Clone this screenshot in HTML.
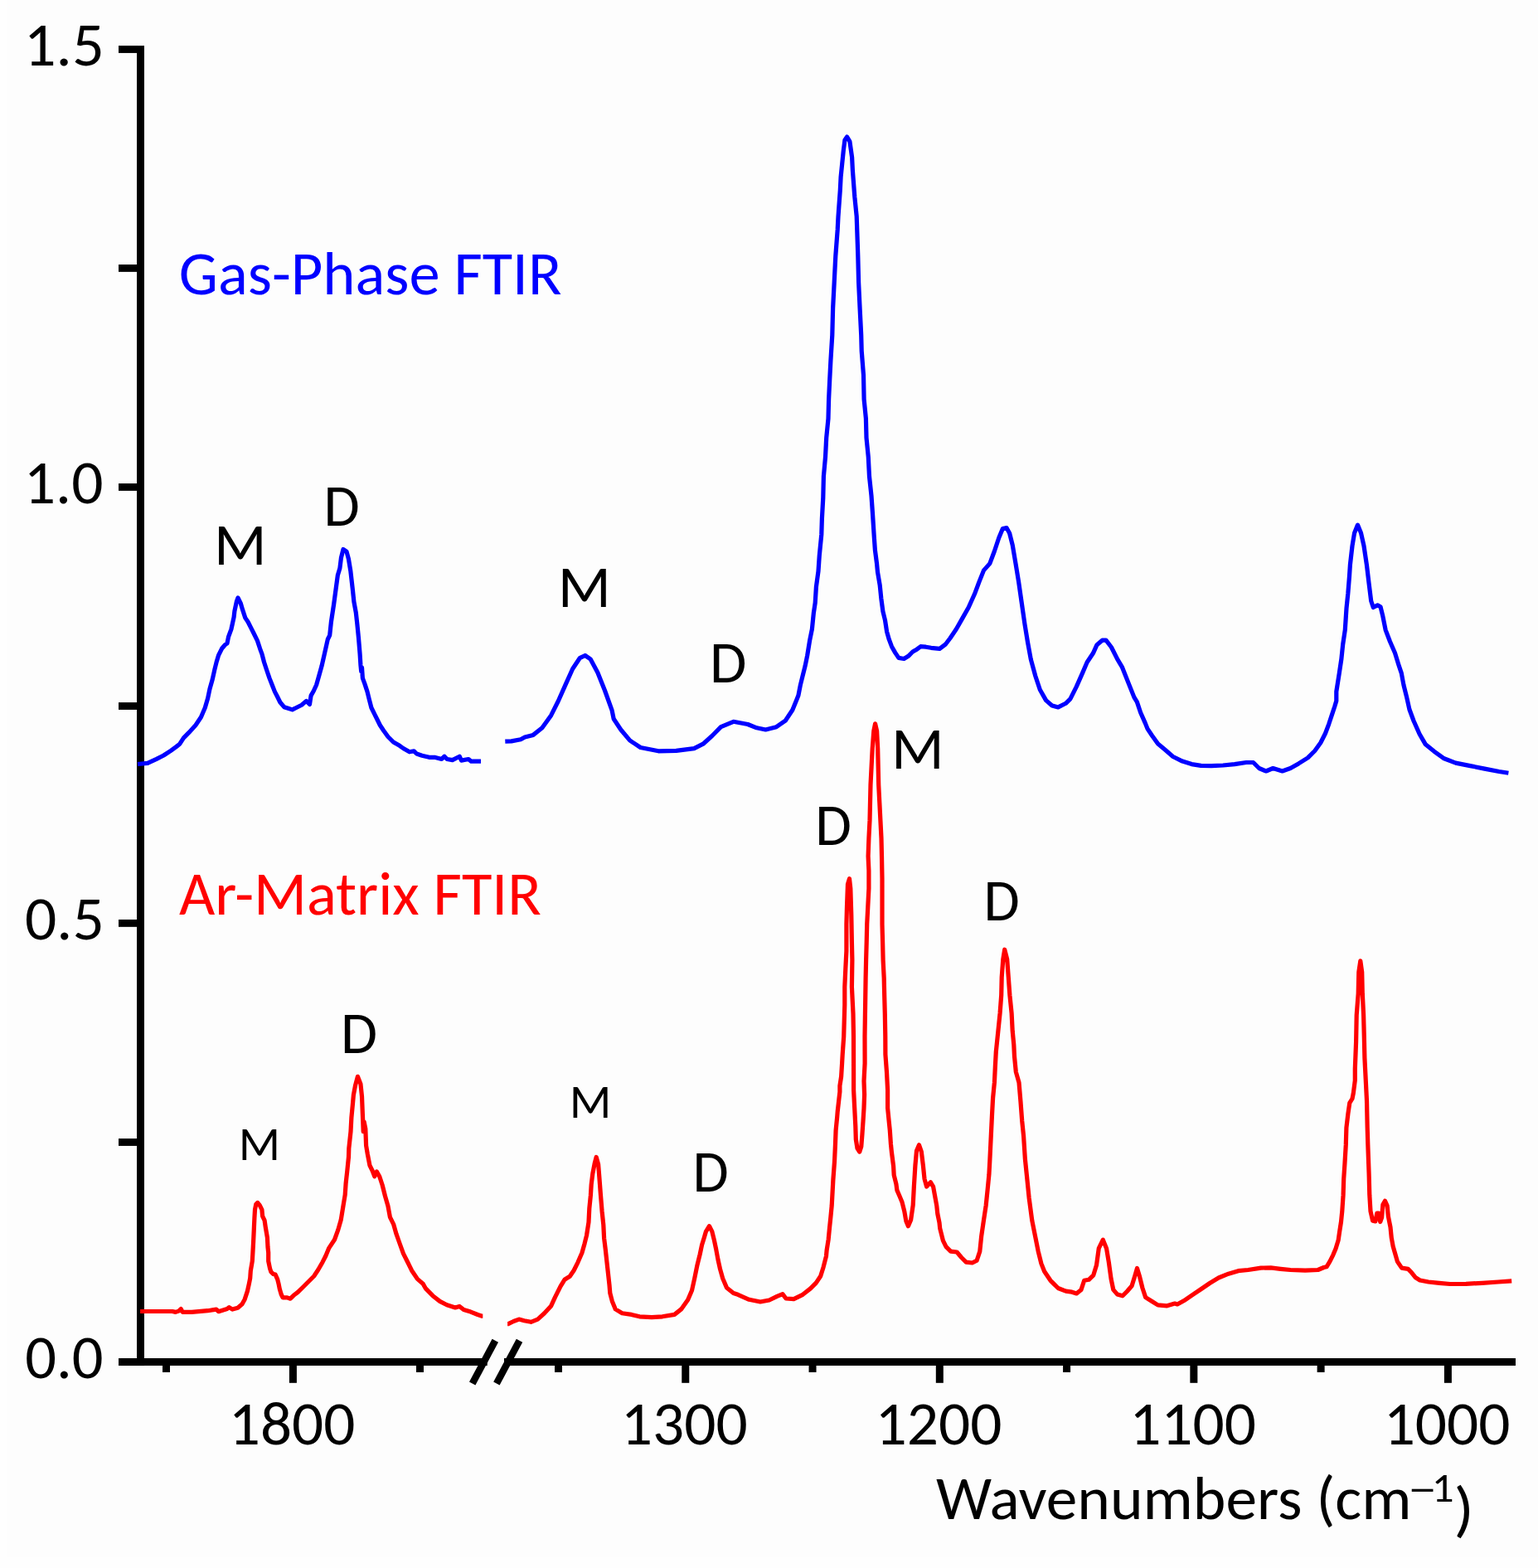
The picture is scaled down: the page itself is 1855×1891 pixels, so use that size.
<!DOCTYPE html>
<html><head><meta charset="utf-8"><title>FTIR spectra</title>
<style>html,body{margin:0;padding:0;background:#fdfdfd;overflow:hidden}svg{display:block}text{font-family:Carlito,"Liberation Sans",sans-serif}</style></head><body>
<svg width="1855" height="1891" viewBox="0 0 1855 1891">
<rect x="0" y="0" width="1855" height="1891" fill="#fdfdfd"/>
<rect x="0" y="0" width="9" height="1891" fill="#fefefe"/><rect x="0" y="1878" width="1855" height="13" fill="#fefefe"/>
<g fill="#000">
<rect x="165.0" y="55.1" width="9.00" height="1591.85"/>
<rect x="143" y="55.08" width="22.50" height="8.85"/>
<rect x="143" y="319.02" width="22.50" height="8.85"/>
<rect x="143" y="583.03" width="22.50" height="8.85"/>
<rect x="143" y="847.08" width="22.50" height="8.85"/>
<rect x="143" y="1108.98" width="22.50" height="8.85"/>
<rect x="143" y="1373.08" width="22.50" height="8.85"/>
<rect x="143" y="1638.08" width="22.50" height="8.85"/>
<rect x="143" y="1638.0" width="444.70" height="8.95"/>
<rect x="608" y="1638.0" width="1220.00" height="8.95"/>
<rect x="196.00" y="1639.00" width="9" height="15.90"/>
<rect x="348.90" y="1639.00" width="9" height="28.80"/>
<rect x="502.00" y="1639.00" width="9" height="15.90"/>
<rect x="669.00" y="1639.00" width="9" height="15.90"/>
<rect x="822.27" y="1639.00" width="9" height="28.80"/>
<rect x="975.54" y="1639.00" width="9" height="15.90"/>
<rect x="1128.81" y="1639.00" width="9" height="28.80"/>
<rect x="1282.08" y="1639.00" width="9" height="15.90"/>
<rect x="1435.35" y="1639.00" width="9" height="28.80"/>
<rect x="1588.62" y="1639.00" width="9" height="15.90"/>
<rect x="1741.89" y="1639.00" width="9" height="28.80"/>
</g>
<g stroke="#000" stroke-width="8.4" stroke-linecap="butt">
<line x1="569.7" y1="1668.5" x2="597.3" y2="1616.8"/>
<line x1="598.9" y1="1668.5" x2="626.5" y2="1616.8"/>
</g>
<g fill="none" stroke-width="5.2" stroke-linejoin="round" stroke-linecap="butt">
<polyline stroke="#0000ff" points="166.0,921.5 178.0,920.4 188.8,915.3 197.4,911.0 206.0,905.3 212.5,900.6 216.8,897.2 221.5,889.9 227.9,883.4 236.0,874.5 242.5,864.8 247.3,853.5 250.6,842.2 253.0,830.8 256.2,819.5 258.7,808.2 261.1,798.5 263.5,790.4 267.5,782.3 271.6,777.5 274.0,775.8 275.6,767.8 278.9,758.9 280.5,751.6 282.1,744.3 282.9,737.0 285.3,725.7 287.0,720.9 290.2,727.3 292.6,735.4 295.8,745.1 299.1,750.0 302.3,756.4 306.4,764.5 310.4,772.6 313.6,782.3 316.0,788.8 318.5,798.5 321.7,808.2 325.0,817.9 328.2,826.0 331.4,834.1 334.7,840.5 337.9,847.0 342.7,852.7 347.6,854.3 352.5,855.9 357.3,853.5 363.8,850.2 369.4,845.4 373.5,849.4 375.1,838.9 378.3,833.3 381.6,826.0 384.8,814.7 388.0,803.3 391.3,788.8 395.3,771.0 397.7,766.1 399.4,750.0 402.6,729.0 405.0,711.2 407.4,693.4 409.9,685.3 411.5,672.3 414.0,662.5 418.0,665.1 420.4,674.0 422.8,688.5 425.2,709.5 426.9,725.7 429.3,738.7 430.9,753.2 432.5,769.4 434.1,788.8 434.9,801.7 435.7,809.8 436.5,805.0 437.4,817.9 439.8,824.4 443.0,834.1 445.4,843.8 447.9,853.5 451.9,861.6 455.1,868.0 458.3,874.5 462.6,881.0 468.0,888.5 474.5,895.0 482.0,899.3 486.4,902.5 493.9,906.8 499.3,905.8 502.5,909.0 509.0,911.2 517.6,913.3 524.1,913.3 532.7,915.5 536.0,912.2 539.2,915.5 545.7,916.6 554.3,912.2 556.4,917.1 565.1,915.5 568.3,918.2 580.0,918.2"/>
<polyline stroke="#0000ff" points="609.3,894.2 616.8,893.9 628.0,891.8 633.0,889.0 643.1,886.4 653.9,877.8 664.7,862.7 673.3,845.5 681.9,826.1 690.6,806.7 699.2,793.7 705.7,790.5 712.1,794.8 720.8,811.0 729.4,832.5 738.0,856.3 740.2,867.0 748.8,880.0 759.6,892.9 772.5,901.5 794.1,905.8 815.6,905.4 837.2,902.6 848.0,897.2 858.8,887.5 869.5,876.7 884.6,870.3 901.9,873.5 912.7,877.8 923.4,880.0 936.4,876.7 947.2,869.2 955.8,856.3 960.0,846.0 962.9,838.7 965.4,826.0 967.9,815.9 971.1,803.2 973.7,790.5 976.8,771.4 979.4,758.7 981.3,739.7 983.2,727.0 984.4,707.9 987.0,688.9 988.3,669.8 990.8,644.4 991.4,625.4 992.8,600.0 993.4,574.6 995.5,551.3 996.7,528.1 999.0,504.8 999.6,481.5 1000.7,458.2 1001.9,434.9 1003.8,404.0 1004.6,372.2 1006.2,340.5 1007.8,308.7 1010.2,277.0 1011.0,261.1 1013.3,229.4 1014.1,213.5 1015.7,197.6 1017.3,181.7 1018.9,169.0 1021.6,165.1 1024.9,170.6 1027.6,189.7 1028.4,205.6 1030.8,237.3 1033.2,261.1 1034.0,284.9 1034.8,308.7 1035.6,340.5 1037.1,372.2 1038.7,404.0 1039.2,423.3 1041.5,452.4 1042.1,481.5 1044.4,504.8 1045.0,528.1 1047.3,551.3 1048.5,574.6 1051.0,598.0 1052.4,618.0 1054.3,647.6 1055.4,663.4 1057.5,679.3 1058.5,689.9 1061.2,705.7 1062.8,721.6 1064.9,737.4 1067.5,748.0 1069.6,761.7 1072.3,771.2 1075.5,779.7 1079.7,787.1 1083.9,793.4 1090.3,794.5 1095.5,791.3 1100.8,786.0 1106.1,782.9 1110.3,779.7 1116.7,780.2 1123.0,781.3 1133.3,782.3 1140.6,776.8 1146.1,769.5 1153.5,758.5 1160.8,745.6 1168.1,732.8 1175.5,716.3 1181.0,701.6 1186.5,687.9 1193.8,679.6 1199.3,665.0 1204.8,648.5 1209.4,637.5 1214.0,636.6 1217.6,643.0 1221.3,657.7 1225.0,679.6 1228.6,701.6 1232.3,727.3 1236.0,753.0 1239.6,775.0 1243.3,795.1 1248.8,815.3 1254.3,831.8 1261.6,844.6 1268.9,851.0 1276.3,852.9 1285.4,848.3 1290.9,842.8 1298.3,828.1 1305.6,811.6 1311.1,798.8 1318.4,787.8 1323.0,777.7 1329.4,772.2 1334.0,772.2 1340.4,780.5 1347.8,795.1 1353.3,804.3 1360.6,822.6 1367.9,840.9 1371.4,846.6 1375.6,859.2 1381.2,871.9 1384.0,878.9 1389.6,887.3 1396.6,897.1 1405.0,904.1 1414.8,912.5 1426.1,918.1 1437.3,921.6 1448.5,923.4 1461.1,923.7 1475.1,923.0 1489.1,921.6 1503.1,919.5 1511.6,919.5 1518.6,926.5 1527.0,930.0 1535.4,926.5 1546.6,930.0 1556.4,926.5 1566.2,920.9 1577.4,913.9 1585.8,905.5 1592.8,895.7 1598.5,884.5 1602.7,873.3 1606.9,860.6 1609.7,852.2 1611.8,845.2 1611.8,834.0 1615.3,811.9 1617.9,794.5 1619.7,777.0 1622.3,759.6 1624.0,733.4 1625.8,716.0 1627.5,695.0 1628.4,681.1 1631.0,658.4 1633.6,642.7 1637.5,633.1 1641.5,642.7 1645.0,658.4 1648.4,681.1 1651.1,703.7 1653.7,724.7 1656.3,732.5 1661.5,729.9 1665.0,731.7 1667.6,742.1 1671.1,759.6 1676.4,773.5 1682.5,787.5 1686.8,801.4 1690.3,811.9 1692.9,825.9 1696.4,839.8 1699.9,855.5 1705.1,869.5 1712.1,885.2 1719.1,897.4 1729.6,906.1 1741.8,914.8 1755.7,920.1 1773.2,923.6 1790.6,927.1 1808.1,930.5 1819.4,932.3"/>
<polyline stroke="#ff0000" points="169.1,1581.5 207.9,1581.5 211.8,1582.4 215.6,1581.1 218.2,1578.5 220.2,1582.4 231.2,1582.4 250.6,1580.7 260.9,1579.1 263.5,1581.7 273.9,1578.5 276.4,1576.6 280.3,1579.1 286.8,1577.2 292.0,1572.7 295.2,1566.9 298.4,1557.1 300.4,1548.1 301.7,1541.6 302.3,1532.6 304.3,1520.9 304.9,1510.6 305.6,1497.6 306.2,1484.7 306.9,1469.2 307.5,1458.8 308.8,1452.3 310.7,1450.4 313.3,1453.6 315.9,1458.8 316.6,1466.6 319.1,1471.8 320.4,1480.8 322.4,1492.5 323.0,1504.1 323.7,1510.6 323.7,1520.9 325.6,1530.0 326.9,1533.9 329.5,1536.4 332.1,1537.1 334.7,1542.9 336.0,1548.1 337.3,1554.6 339.2,1561.0 341.1,1564.9 346.3,1564.9 350.2,1566.2 354.1,1562.3 359.2,1558.4 365.7,1552.0 372.2,1545.5 378.7,1539.0 383.8,1531.3 389.0,1522.2 392.9,1514.5 396.8,1505.1 403.5,1495.0 407.8,1483.1 411.2,1471.3 413.7,1456.0 416.2,1440.8 417.1,1427.3 418.8,1412.0 420.5,1395.1 420.8,1385.0 423.0,1364.6 423.9,1347.7 425.5,1330.8 426.4,1320.6 428.6,1308.8 431.4,1298.3 434.9,1307.1 436.5,1322.3 437.4,1344.3 438.2,1364.6 439.1,1352.8 440.8,1361.2 441.6,1381.6 443.3,1391.7 445.9,1405.3 449.2,1412.0 451.8,1418.8 454.3,1412.9 457.7,1418.8 461.1,1429.0 464.5,1442.5 467.9,1454.3 470.4,1467.9 474.6,1476.3 478.0,1488.2 482.2,1500.0 486.5,1511.9 491.6,1522.0 496.6,1532.2 503.4,1542.4 510.2,1548.3 513.6,1554.2 522.0,1562.7 530.5,1569.4 539.0,1573.7 549.1,1577.0 554.2,1575.4 559.3,1579.6 567.7,1582.1 576.2,1585.5 581.4,1587.2 582.3,1587.2"/>
<polyline stroke="#ff0000" points="612.1,1596.6 613.0,1596.6 619.4,1593.5 625.9,1591.1 632.3,1592.7 640.4,1594.3 648.5,1591.1 656.6,1583.8 664.7,1574.9 669.5,1564.4 676.0,1551.4 680.9,1543.3 687.3,1539.3 692.2,1532.0 697.0,1522.3 701.9,1511.0 705.1,1499.7 707.5,1490.0 710.0,1473.8 710.8,1457.6 712.4,1441.5 713.2,1428.5 714.8,1415.6 717.3,1402.6 719.2,1395.4 721.6,1404.3 722.9,1420.4 724.5,1441.5 726.1,1460.9 727.8,1477.0 728.6,1493.2 730.2,1506.1 731.8,1520.7 733.4,1535.3 735.0,1549.8 735.8,1559.5 738.3,1569.2 742.3,1578.9 750.4,1583.8 761.7,1585.4 771.4,1587.8 786.0,1588.6 798.9,1587.8 813.5,1585.4 821.6,1578.9 829.7,1567.6 834.5,1556.3 837.7,1541.7 841.0,1525.6 844.2,1512.6 846.6,1501.3 849.1,1493.2 851.5,1485.1 855.5,1478.7 858.8,1485.1 861.2,1494.8 863.6,1506.1 866.0,1519.1 868.5,1530.4 871.7,1541.7 876.5,1553.0 884.6,1559.5 890.0,1561.3 903.5,1567.3 917.0,1570.0 927.7,1568.0 937.2,1563.3 943.9,1560.6 948.0,1566.0 957.4,1566.7 968.2,1561.3 977.6,1553.9 984.3,1547.1 989.7,1539.0 993.1,1528.2 996.5,1514.8 997.1,1508.0 999.2,1494.6 1000.5,1481.1 1001.9,1467.6 1003.2,1454.1 1004.9,1422.5 1006.5,1401.0 1007.5,1379.4 1008.1,1363.2 1009.7,1347.0 1010.2,1340.6 1011.9,1325.5 1012.9,1316.8 1012.9,1309.3 1014.6,1298.5 1015.6,1282.3 1016.2,1271.6 1017.7,1250.0 1018.8,1211.7 1018.8,1190.2 1019.8,1168.6 1020.9,1147.0 1020.9,1114.7 1021.5,1093.1 1022.5,1066.2 1024.5,1059.7 1025.8,1071.6 1026.8,1103.9 1027.4,1136.3 1027.9,1157.8 1027.4,1190.2 1029.0,1222.5 1029.5,1250.0 1029.6,1293.1 1029.6,1314.7 1030.7,1336.3 1031.8,1357.8 1032.3,1374.0 1034.0,1384.8 1036.7,1389.1 1038.8,1382.6 1039.9,1368.6 1041.0,1352.4 1042.0,1336.3 1042.6,1320.1 1042.0,1303.9 1043.1,1282.3 1043.0,1250.0 1043.6,1211.7 1044.1,1179.4 1044.6,1157.8 1045.2,1136.3 1045.7,1114.7 1046.8,1093.1 1047.9,1071.6 1047.9,1050.0 1047.1,1032.5 1047.9,1011.0 1049.0,989.4 1049.5,967.8 1050.0,946.3 1051.1,924.7 1052.2,903.1 1053.8,881.6 1055.6,872.9 1057.6,881.6 1058.7,903.1 1059.2,924.7 1059.7,946.3 1060.8,967.8 1061.9,989.4 1063.0,1011.0 1063.5,1032.5 1064.0,1060.0 1064.0,1093.1 1064.0,1114.7 1064.6,1136.3 1065.1,1157.8 1066.2,1179.4 1066.7,1201.0 1067.3,1222.5 1067.8,1250.0 1067.9,1271.6 1069.5,1293.1 1070.6,1314.7 1070.6,1336.3 1072.2,1352.4 1073.3,1363.2 1074.4,1379.4 1075.5,1390.2 1077.6,1406.3 1078.2,1417.1 1080.9,1427.9 1081.9,1435.4 1085.2,1443.0 1088.1,1450.1 1090.8,1460.9 1092.8,1472.4 1095.4,1478.7 1098.6,1471.3 1101.2,1453.3 1102.3,1432.2 1103.9,1405.7 1105.5,1387.8 1108.5,1380.8 1111.3,1388.8 1113.4,1405.7 1115.0,1421.6 1117.6,1431.1 1122.4,1425.8 1125.6,1431.1 1127.7,1442.8 1129.8,1454.4 1130.8,1463.9 1133.0,1474.5 1133.7,1481.4 1137.4,1496.2 1141.1,1503.6 1146.7,1509.1 1154.1,1510.0 1159.6,1516.5 1165.2,1522.1 1172.6,1523.0 1178.1,1520.2 1181.8,1509.1 1183.7,1490.6 1186.4,1472.1 1189.2,1453.6 1191.1,1435.1 1192.9,1416.6 1193.9,1398.1 1194.8,1379.6 1195.7,1361.0 1196.6,1342.5 1197.6,1324.0 1199.4,1305.5 1200.3,1287.0 1201.3,1268.5 1203.9,1243.3 1206.1,1221.7 1207.7,1200.2 1208.2,1178.6 1209.8,1157.0 1211.7,1145.2 1214.7,1157.0 1216.3,1178.6 1217.9,1200.2 1220.1,1221.7 1221.2,1243.3 1222.8,1260.0 1223.5,1274.1 1225.3,1292.6 1229.0,1305.5 1230.9,1327.7 1232.7,1351.8 1234.6,1370.3 1236.4,1398.1 1238.3,1416.6 1241.1,1444.3 1244.8,1472.1 1248.5,1490.6 1252.2,1509.1 1255.9,1523.9 1259.6,1533.2 1267.0,1544.3 1276.2,1553.5 1285.5,1557.2 1292.9,1558.2 1298.4,1560.0 1304.0,1555.4 1307.7,1544.3 1313.2,1543.3 1318.8,1537.8 1322.5,1525.8 1325.3,1505.4 1330.3,1495.2 1334.5,1505.4 1337.3,1522.1 1340.1,1542.4 1342.8,1555.4 1347.5,1560.9 1354.0,1562.8 1359.5,1557.2 1365.1,1550.8 1368.8,1538.7 1371.5,1529.5 1374.3,1538.7 1378.0,1553.5 1381.7,1564.6 1389.1,1569.3 1396.5,1573.9 1407.6,1574.8 1416.9,1572.0 1420.0,1573.0 1429.5,1567.7 1439.0,1561.1 1449.6,1554.0 1459.1,1547.5 1469.8,1541.0 1481.7,1536.2 1493.5,1532.7 1505.4,1531.5 1520.8,1529.1 1532.7,1528.9 1544.5,1530.3 1556.4,1531.5 1574.2,1532.1 1589.6,1531.5 1596.7,1528.5 1600.0,1527.8 1603.9,1521.4 1607.8,1513.6 1611.0,1505.9 1614.2,1495.5 1615.5,1486.4 1617.5,1473.5 1618.8,1460.6 1620.1,1441.2 1620.7,1421.8 1622.0,1402.3 1623.3,1380.4 1623.9,1360.0 1625.9,1343.1 1627.8,1330.2 1631.0,1325.0 1632.3,1318.5 1634.3,1303.0 1634.3,1288.8 1635.6,1256.4 1636.2,1224.1 1638.2,1198.2 1638.8,1172.3 1640.8,1158.8 1642.7,1172.3 1643.3,1198.2 1644.6,1224.1 1645.3,1250.0 1645.9,1275.9 1647.2,1301.7 1648.5,1327.6 1649.2,1360.0 1649.8,1380.0 1651.1,1415.3 1651.8,1441.2 1653.0,1460.6 1655.6,1472.2 1658.9,1472.9 1660.8,1463.2 1662.8,1463.2 1664.7,1473.5 1666.6,1468.3 1667.9,1452.8 1670.5,1448.3 1673.1,1454.1 1674.4,1467.0 1677.0,1480.0 1678.3,1492.9 1680.2,1503.3 1682.8,1512.3 1685.4,1521.4 1690.6,1529.1 1698.3,1530.4 1702.2,1534.3 1707.4,1540.8 1712.6,1544.0 1722.9,1546.0 1735.9,1547.3 1748.8,1548.5 1768.2,1548.3 1787.6,1547.3 1807.0,1546.0 1823.2,1544.9"/>
</g>
<text x="28.75" y="78.90" font-size="74" textLength="97.02" lengthAdjust="spacingAndGlyphs">1.5</text>
<text x="28.86" y="606.60" font-size="74" textLength="95.58" lengthAdjust="spacingAndGlyphs">1.0</text>
<text x="30.06" y="1132.90" font-size="74" textLength="95.64" lengthAdjust="spacingAndGlyphs">0.5</text>
<text x="30.29" y="1662.00" font-size="74" textLength="94.33" lengthAdjust="spacingAndGlyphs">0.0</text>
<text x="275.89" y="1741.70" font-size="74" textLength="152.48" lengthAdjust="spacingAndGlyphs">1800</text>
<text x="748.76" y="1741.70" font-size="74" textLength="153.01" lengthAdjust="spacingAndGlyphs">1300</text>
<text x="1055.57" y="1741.70" font-size="74" textLength="152.80" lengthAdjust="spacingAndGlyphs">1200</text>
<text x="1362.17" y="1741.70" font-size="74" textLength="152.80" lengthAdjust="spacingAndGlyphs">1100</text>
<text x="1668.67" y="1741.70" font-size="74" textLength="152.80" lengthAdjust="spacingAndGlyphs">1000</text>
<text x="215.89" y="354.70" font-size="74.5" textLength="461.57" lengthAdjust="spacingAndGlyphs" fill="#0000ff">Gas-Phase FTIR</text>
<text x="216.00" y="1102.60" font-size="74.5" textLength="436.80" lengthAdjust="spacingAndGlyphs" fill="#ff0000">Ar-Matrix FTIR</text>
<text x="258.11" y="680.80" font-size="72" textLength="63.53" lengthAdjust="spacingAndGlyphs">M</text>
<text x="390.52" y="633.60" font-size="72" textLength="43.22" lengthAdjust="spacingAndGlyphs">D</text>
<text x="672.85" y="731.90" font-size="72" textLength="64.15" lengthAdjust="spacingAndGlyphs">M</text>
<text x="855.89" y="823.30" font-size="72" textLength="44.42" lengthAdjust="spacingAndGlyphs">D</text>
<text x="983.27" y="1018.50" font-size="72" textLength="43.70" lengthAdjust="spacingAndGlyphs">D</text>
<text x="1075.10" y="926.80" font-size="72" textLength="63.66" lengthAdjust="spacingAndGlyphs">M</text>
<text x="1186.62" y="1109.60" font-size="72" textLength="43.22" lengthAdjust="spacingAndGlyphs">D</text>
<text x="411.03" y="1269.60" font-size="72" textLength="44.06" lengthAdjust="spacingAndGlyphs">D</text>
<text x="835.62" y="1437.40" font-size="72" textLength="43.22" lengthAdjust="spacingAndGlyphs">D</text>
<text x="287.79" y="1399.40" font-size="56.5" textLength="50.29" lengthAdjust="spacingAndGlyphs">M</text>
<text x="686.66" y="1348.00" font-size="56.5" textLength="50.67" lengthAdjust="spacingAndGlyphs">M</text>
<text x="1129.08" y="1831.90" font-size="74" textLength="573.43" lengthAdjust="spacingAndGlyphs">Wavenumbers (cm</text>
<text x="1698.46" y="1813.10" font-size="50" textLength="34.34" lengthAdjust="spacingAndGlyphs">−</text>
<text x="1726.69" y="1811.00" font-size="50" textLength="26.89" lengthAdjust="spacingAndGlyphs">1</text>
<text x="1753.56" y="1844.90" font-size="74" textLength="24.35" lengthAdjust="spacingAndGlyphs">)</text>
</svg></body></html>
